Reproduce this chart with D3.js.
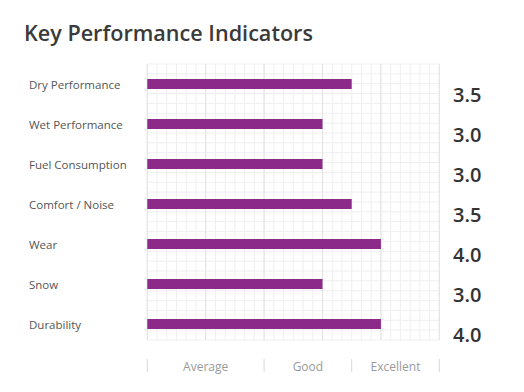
<!DOCTYPE html>
<html><head><meta charset="utf-8">
<script src="https://cdn.jsdelivr.net/npm/d3@7"></script>
<style>body{margin:0;background:#fff;} text{font-family:"Open Sans",sans-serif;}</style>
</head><body><svg id="c" width="524" height="392"></svg>
<script>
const title = "Key Performance Indicators";
const categories = ["Dry Performance","Wet Performance","Fuel Consumption","Comfort / Noise","Wear","Snow","Durability"];
const values = [3.5, 3.0, 3.0, 3.5, 4.0, 3.0, 4.0];
const ratingLabels = ["Average","Good","Excellent"];
const ratingBounds = [0, 2, 3.5, 5];

const svg = d3.select("#c");
const x = d3.scaleLinear().domain([0,5]).range([147.3,439.3]);
const y = d3.scaleBand().domain(categories).range([64,344]).paddingInner(0.75).paddingOuter(0.375);
const gridTop = 64, gridBottom = 340;

svg.append("text").attr("x",24).attr("y",41).attr("font-size",21.6).attr("font-weight",600)
  .attr("fill","#3a3a3a").text(title);

const g = svg.append("g");
const hLines = d3.range(gridTop, gridBottom+0.1, (gridBottom-gridTop)/28);
g.selectAll(".h").data(hLines).join("line")
  .attr("x1",x(0)).attr("x2",x(5)).attr("y1",d=>d).attr("y2",d=>d)
  .attr("stroke","#efefef").attr("stroke-width",1);
const vMinor = d3.range(0,5.001,1/6);
g.selectAll(".vm").data(vMinor).join("line")
  .attr("x1",d=>x(d)).attr("x2",d=>x(d)).attr("y1",gridTop).attr("y2",gridBottom)
  .attr("stroke","#efefef").attr("stroke-width",1);
g.selectAll(".vM").data(d3.range(0,6)).join("line")
  .attr("x1",d=>x(d)).attr("x2",d=>x(d)).attr("y1",gridTop).attr("y2",gridBottom)
  .attr("stroke","#e2e2e2").attr("stroke-width",1);

svg.selectAll(".bar").data(values).join("rect")
  .attr("x",x(0)).attr("y",(d,i)=>y(categories[i]))
  .attr("width",d=>x(d)-x(0)).attr("height",y.bandwidth())
  .attr("fill","#8b2a88");

svg.selectAll(".cat").data(categories).join("text")
  .attr("x",29).attr("y",d=>y(d)+y.bandwidth()/2+1).attr("dy","0.35em")
  .attr("font-size",11.5).attr("fill","#555").text(d=>d);

svg.selectAll(".val").data(values).join("text")
  .attr("x",453).attr("y",(d,i)=>y(categories[i])+y.bandwidth()/2+18)
  .attr("font-size",20).attr("font-weight",600).attr("fill","#333")
  .text(d=>d3.format(".1f")(d));

svg.selectAll(".sep").data(ratingBounds).join("line")
  .attr("x1",d=>x(d)).attr("x2",d=>x(d)).attr("y1",359).attr("y2",372)
  .attr("stroke","#d8d8d8");
svg.selectAll(".rl").data(ratingLabels).join("text")
  .attr("x",(d,i)=>(x(ratingBounds[i])+x(ratingBounds[i+1]))/2).attr("y",367).attr("dy","0.35em")
  .attr("text-anchor","middle").attr("font-size",12).attr("fill","#9a9a9a").text(d=>d);
</script></body></html>
